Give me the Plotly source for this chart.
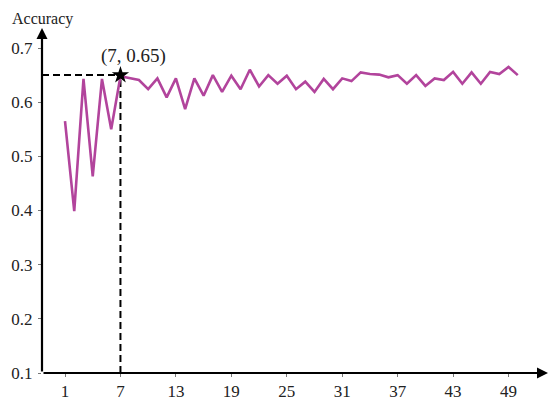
import plotly.graph_objects as go

k_values = list(range(1, 51))
accuracy = [0.565, 0.399, 0.643, 0.463, 0.643, 0.550, 0.648, 0.644, 0.641, 0.624,
            0.644, 0.609, 0.644, 0.587, 0.644, 0.612, 0.650, 0.619, 0.649, 0.624,
            0.660, 0.629, 0.650, 0.634, 0.649, 0.624, 0.638, 0.619, 0.643, 0.624,
            0.644, 0.639, 0.655, 0.652, 0.651, 0.646, 0.650, 0.634, 0.650, 0.630,
            0.644, 0.641, 0.656, 0.634, 0.655, 0.634, 0.656, 0.652, 0.665, 0.650]
x_ticks = [1, 7, 13, 19, 25, 31, 37, 43, 49]
y_ticks = [0.1, 0.2, 0.3, 0.4, 0.5, 0.6, 0.7]
y_tick_labels = ["0.1", "0.2", "0.3", "0.4", "0.5", "0.6", "0.7"]
best_k = 7
best_acc = 0.65
best_label = "(7, 0.65)"

x_range = [-1.49, 53.27]
y_range = [0.1, 0.737]
serif = "Liberation Serif, DejaVu Serif, serif"
text_color = "#222222"

fig = go.Figure()
fig.add_trace(go.Scatter(x=k_values, y=accuracy, mode="lines",
                         line=dict(color="#b2449c", width=2.6), showlegend=False))
fig.add_trace(go.Scatter(x=[best_k], y=[best_acc], mode="markers",
                         marker=dict(symbol="star", size=13, color="black"),
                         showlegend=False))

# dashed guide lines
fig.add_shape(type="line", x0=x_range[0], x1=best_k, y0=best_acc, y1=best_acc,
              line=dict(color="black", width=2, dash="7px,4px"), layer="below")
fig.add_shape(type="line", x0=best_k, x1=best_k, y0=y_range[0], y1=best_acc,
              line=dict(color="black", width=2, dash="7px,4px"), layer="below")

annotations = [
    dict(x=best_k, y=best_acc, xref="x", yref="y", text=best_label, showarrow=False,
         yshift=19, xshift=13, font=dict(family=serif, size=19, color=text_color)),
    # axis arrows
    dict(x=1.0, y=0, xref="x domain", yref="y domain", ax=0, ay=0,
         axref="x domain", ayref="y domain",
         showarrow=True, arrowhead=2, arrowsize=1, arrowwidth=2.2, arrowcolor="black", text=""),
    dict(x=0, y=1.0, xref="x domain", yref="y domain", ax=0, ay=0,
         axref="x domain", ayref="y domain",
         showarrow=True, arrowhead=2, arrowsize=1, arrowwidth=2.2, arrowcolor="black", text=""),
    dict(x=0, y=1.0, xref="paper", yref="paper", text="Accuracy", showarrow=False,
         xanchor="center", yanchor="bottom", yshift=-1, borderpad=0,
         font=dict(family=serif, size=16, color=text_color)),
    dict(x=1.0, y=0, xref="paper", yref="paper", text="<i>k</i>", showarrow=False,
         xanchor="left", yanchor="middle", xshift=0,
         font=dict(family=serif, size=17, color=text_color)),
]

fig.update_layout(
    width=550, height=400,
    margin=dict(l=34, r=10, t=20, b=35, autoexpand=False),
    plot_bgcolor="white", paper_bgcolor="white",
    annotations=annotations,
    xaxis=dict(range=x_range, tickvals=x_ticks, showgrid=False, zeroline=False,
               showline=False, ticks="outside", ticklen=3, tickwidth=1.2, tickcolor="#777",
               automargin=False,
               tickfont=dict(family=serif, size=17, color=text_color)),
    yaxis=dict(range=y_range, tickvals=y_ticks, ticktext=y_tick_labels, showgrid=False,
               zeroline=False, showline=False, ticks="outside", ticklen=3, tickwidth=1.2,
               tickcolor="#777", ticklabelstandoff=2, automargin=False,
               tickfont=dict(family=serif, size=17, color=text_color)),
)

fig.write_html("out.html")
